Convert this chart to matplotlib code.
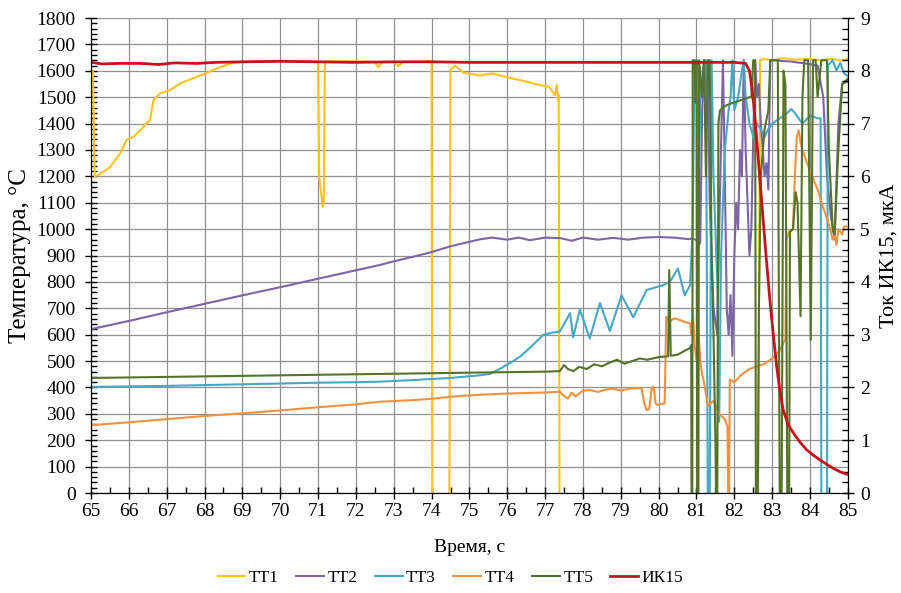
import matplotlib
matplotlib.use("Agg")
import matplotlib.pyplot as plt
from matplotlib.ticker import MultipleLocator

plt.rcParams['font.family'] = ['Liberation Serif', 'DejaVu Serif']

# ---- series data: time (s) and temperature (°C); readings below the axis floor are sensor dropouts ----
tt1_t = [65.0, 65.05, 65.1, 65.2, 65.5, 65.77, 65.94, 66.12, 66.3, 66.47, 66.56, 66.65, 66.82,
         67.09, 67.35, 67.79, 68.23, 68.49, 68.75, 69.0, 70.0, 71.0, 71.03, 71.12, 71.15, 71.18,
         72.0, 72.5, 72.59, 72.7, 73.0, 73.12, 73.25, 73.6, 74.0, 74.02, 74.47, 74.5, 74.62,
         74.84, 75.28, 75.6, 76.0, 76.33, 76.86, 77.1, 77.26, 77.31, 77.34, 77.36, 77.38,
         82.63, 82.68, 82.8, 83.0, 83.3, 83.6, 84.0, 84.3, 84.6, 84.8, 85.0]
tt1_v = [1600, 1600, 1200, 1205, 1235, 1287, 1338, 1350, 1375, 1401, 1413, 1489, 1514,
         1527, 1552, 1577, 1603, 1618, 1630, 1634, 1636, 1635, 1200, 1085, 1100, 1635,
         1636, 1634, 1613, 1634, 1632, 1618, 1634, 1635, 1636, -30, -30, 1603, 1620,
         1593, 1582, 1590, 1575, 1565, 1546, 1540, 1508, 1546, 1489, 1508, -30,
         -30, 1640, 1645, 1640, 1648, 1642, 1645, 1640, 1646, 1638, 1645]

tt2_t = [65.0, 66.0, 67.0, 68.0, 69.0, 70.0, 71.0, 72.0, 72.63, 73.0, 73.5, 74.0, 74.5, 75.0,
         75.3, 75.6, 76.0, 76.3, 76.6, 77.0, 77.4, 77.7, 78.0, 78.4, 78.8, 79.2, 79.6, 80.0,
         80.4, 80.8, 80.9, 81.0, 81.05, 81.1, 81.15, 81.2, 81.3, 81.35, 81.45, 81.55, 81.6,
         81.7, 81.75, 81.8, 81.85, 81.9, 81.95, 82.0, 82.05, 82.1, 82.15, 82.2, 82.25, 82.3,
         82.35, 82.4, 82.45, 82.5, 82.55, 82.6, 82.65, 82.7, 82.75, 82.8, 82.85, 82.9, 82.95,
         83.0, 83.5, 84.0, 84.2, 84.35, 84.45, 84.55, 84.65, 84.75, 84.85, 85.0]
tt2_v = [621, 652, 685, 717, 749, 780, 812, 844, 864, 878, 895, 913, 935, 952,
         962, 968, 960, 968, 958, 968, 966, 956, 968, 960, 967, 960, 968, 970,
         968, 962, 965, 958, 935, 950, 1450, 1640, 1600, 1100, 700, 600, 1000,
         1640, 1200, 700, 600, 750, 520, 900, 1100, 1000, 1300, 1200, 1640, 1300,
         1100, 900, 1000, 1350, 1640, 1500, 1550, 1400, 1300, 1200, 1250, 1150, 1640,
         1640, 1635, 1625, 1620, 1500, 1200, 1050, 960, 1400, 1550, 1560]

tt3_t = [65.0, 66.0, 67.0, 68.0, 69.0, 70.0, 71.0, 72.0, 72.63, 73.5, 74.5, 75.2, 75.54,
         75.8, 76.1, 76.33, 76.6, 76.95, 77.2, 77.39, 77.5, 77.66, 77.74, 77.92, 78.05,
         78.18, 78.45, 78.71, 79.02, 79.33, 79.68, 80.12, 80.3, 80.51, 80.69, 80.83, 80.9,
         80.95, 81.0, 81.05, 81.1, 81.2, 81.25, 81.3, 81.35, 81.4, 81.45, 81.55, 81.6, 81.65,
         81.75, 81.85, 81.9, 81.95, 82.0, 82.1, 82.2, 82.25, 82.3, 82.4, 82.5, 82.6, 82.7,
         82.8, 82.9, 83.0, 83.2, 83.4, 83.5, 83.6, 83.8, 84.0, 84.2, 84.28, 84.3, 84.45,
         84.47, 84.6, 84.7, 84.8, 84.9, 85.0]
tt3_v = [402, 404, 406, 409, 412, 415, 418, 420, 422, 428, 436, 445, 451,
         470, 495, 516, 550, 599, 608, 612, 640, 682, 590, 695, 640,
         586, 720, 614, 749, 666, 769, 788, 801, 851, 749, 788, 1000,
         1640, 1600, 1000, 1500, 1640, 1640, -30, -30, 1640, 1200, 800, 270, 900,
         1300, 1450, 1500, 1640, 1450, 1500, 1600, 1640, 1500, 1400, 1350, 1400, 1380,
         1350, 1380, 1400, 1420, 1440, 1455, 1440, 1400, 1430, 1420, 1420, -30, -30,
         1620, 1640, 1600, 1630, 1590, 1580]

tt4_t = [65.0, 66.0, 67.0, 68.0, 69.0, 70.0, 71.0, 72.0, 72.63, 73.5, 74.0, 74.5, 75.0,
         75.5, 76.0, 76.5, 77.0, 77.39, 77.5, 77.6, 77.7, 77.8, 78.0, 78.2, 78.4, 78.6,
         78.8, 79.0, 79.3, 79.55, 79.62, 79.68, 79.75, 79.82, 79.87, 79.92, 79.96, 80.1,
         80.16, 80.2, 80.3, 80.4, 80.55, 80.7, 80.83, 80.87, 80.9, 80.95, 81.0, 81.05,
         81.1, 81.15, 81.2, 81.3, 81.45, 81.6, 81.75, 81.82, 81.84, 81.86, 81.88, 82.0,
         82.2, 82.4, 82.6, 82.8, 83.0, 83.2, 83.3, 83.35, 83.38, 83.45, 83.55, 83.6,
         83.65, 83.7, 83.75, 83.8, 84.0, 84.2, 84.35, 84.45, 84.55, 84.6, 84.65, 84.7,
         84.75, 84.85, 84.9, 85.0]
tt4_v = [257, 268, 280, 292, 302, 313, 325, 336, 346, 352, 357, 365, 370,
         374, 377, 379, 381, 384, 368, 358, 380, 366, 388, 390, 383, 392,
         395, 389, 397, 397, 340, 314, 318, 400, 403, 340, 334, 338,
         340, 668, 650, 662, 656, 648, 643, 600, 700, 560, 500, 620,
         500, 450, 420, 330, 350, 300, 280, 250, -30, -30, 430, 420,
         450, 470, 480, 490, 510, 540, 570, 580, 960, 990, 1000, 1200,
         1350, 1375, 1330, 1300, 1220, 1150, 1080, 1040, 990, 960, 980, 940,
         1000, 980, 1010, 1010]

tt5_t = [65.0, 67.0, 69.0, 71.0, 73.0, 75.0, 77.0, 77.39, 77.5, 77.6, 77.75, 77.9, 78.1,
         78.3, 78.5, 78.7, 78.9, 79.1, 79.3, 79.5, 79.7, 80.0, 80.25, 80.28, 80.32, 80.5,
         80.7, 80.83, 80.86, 80.87, 80.89, 80.9, 80.95, 80.98, 81.0, 81.02, 81.05, 81.07,
         81.15, 81.2, 81.25, 81.3, 81.35, 81.4, 81.45, 81.5, 81.52, 81.55, 81.58, 81.62,
         81.7, 81.8, 82.0, 82.2, 82.4, 82.45, 82.5, 82.55, 82.57, 82.62, 82.65, 82.7,
         82.8, 82.9, 82.95, 83.15, 83.2, 83.25, 83.3, 83.35, 83.4, 83.45, 83.47, 83.55,
         83.62, 83.67, 83.75, 83.8, 83.85, 83.95, 84.02, 84.08, 84.15, 84.2, 84.3, 84.45,
         84.5, 84.6, 84.65, 84.75, 84.85, 85.0]
tt5_v = [436, 440, 444, 448, 452, 456, 460, 462, 485, 470, 462, 478, 470,
         488, 480, 494, 505, 490, 500, 510, 505, 515, 518, 845, 520, 524,
         540, 549, 560, -30, -30, 1640, 1640, 1480, 1640, -30, -30, 1640,
         1500, 1640, 1200, 1640, 1640, 900, 600, 200, -30, -30, 1400, 1450,
         1460, 1470, 1480, 1490, 1500, 1500, 1640, 1640, -30, -30, 700, 1200,
         1380, 1450, 1640, 1640, -30, -30, 1600, 1550, -30, -30, 990, 1000,
         1140, 1100, 670, 1500, 1640, 1640, 580, 1640, 1640, 1500, 1640, 1640,
         1300, 1000, 980, 1300, 1550, 1570]

# ---- ИК15 current (µA), right axis ----
ik_t = [65.0, 65.3, 65.7, 66.3, 66.8, 67.2, 67.8, 68.3, 69.0, 70.0, 71.0, 72.0, 73.0,
        74.0, 75.0, 76.0, 77.0, 78.0, 79.0, 80.0, 81.0, 82.0, 82.3, 82.4, 82.45, 82.52,
        82.58, 82.67, 82.76, 82.85, 82.94, 83.03, 83.12, 83.2, 83.29, 83.42, 83.56, 83.73,
        83.91, 84.08, 84.26, 84.43, 84.61, 84.8, 85.0]
ik_v = [8.16, 8.13, 8.14, 8.14, 8.12, 8.15, 8.14, 8.16, 8.17, 8.18, 8.17, 8.16, 8.17,
        8.17, 8.16, 8.16, 8.16, 8.16, 8.16, 8.16, 8.16, 8.16, 8.14, 8.0, 7.76, 7.3,
        6.8, 6.0, 5.2, 4.4, 3.66, 3.0, 2.4, 1.95, 1.58, 1.3, 1.14, 0.97,
        0.82, 0.72, 0.63, 0.55, 0.47, 0.4, 0.35]

series = [
    ("ТТ1", tt1_t, tt1_v, "#FFC21A"),
    ("ТТ2", tt2_t, tt2_v, "#7E64A6"),
    ("ТТ3", tt3_t, tt3_v, "#45A8C4"),
    ("ТТ4", tt4_t, tt4_v, "#F3913F"),
    ("ТТ5", tt5_t, tt5_v, "#55722A"),
]

fig = plt.figure(figsize=(9.01, 5.93), dpi=100)
ax = fig.add_axes([0.101, 0.1686, 0.840, 0.801])

handles = []
for name, t, v, c in series:
    h, = ax.plot(t, v, color=c, lw=1.5, label=name)
    handles.append(h)

ax.set_xlim(65, 85)
ax.set_ylim(0, 1800)
ax.xaxis.set_major_locator(MultipleLocator(1))
ax.xaxis.set_minor_locator(MultipleLocator(0.5))
ax.yaxis.set_major_locator(MultipleLocator(100))
ax.yaxis.set_minor_locator(MultipleLocator(20))
ax.grid(True, which='major', color='#909090', lw=0.9)
ax.set_axisbelow(True)
ax.tick_params(which='major', direction='inout', length=8, width=1, labelsize=14, pad=3)
ax.tick_params(axis='y', which='major', pad=7)
ax.tick_params(which='minor', direction='in', length=4, width=1)
ax.set_xlabel("Время, с", fontsize=14, labelpad=14)
ax.set_ylabel("Температура, °С", fontsize=18, labelpad=4)
ax.spines['top'].set_visible(False)

ax2 = ax.twinx()
h_ik, = ax2.plot(ik_t, ik_v, color="#C8101E", lw=2.0, label="ИК15")
handles.append(h_ik)
ax2.set_ylim(0, 9)
ax2.yaxis.set_major_locator(MultipleLocator(1))
ax2.yaxis.set_minor_locator(MultipleLocator(0.2))
ax2.tick_params(which='major', direction='inout', length=8, width=1, labelsize=14, pad=5)
ax2.tick_params(which='minor', direction='in', length=4, width=1)
ax2.set_ylabel("Ток ИК15, мкА", fontsize=16, labelpad=7)
ax2.spines['top'].set_visible(False)

fig.legend(handles=handles, labels=[h.get_label() for h in handles],
           loc='center', bbox_to_anchor=(0.5, 0.026), ncol=6, frameon=False,
           fontsize=12.5, handlelength=1.6, handletextpad=0.2, columnspacing=1.0)

fig.savefig("out.png", dpi=100)
